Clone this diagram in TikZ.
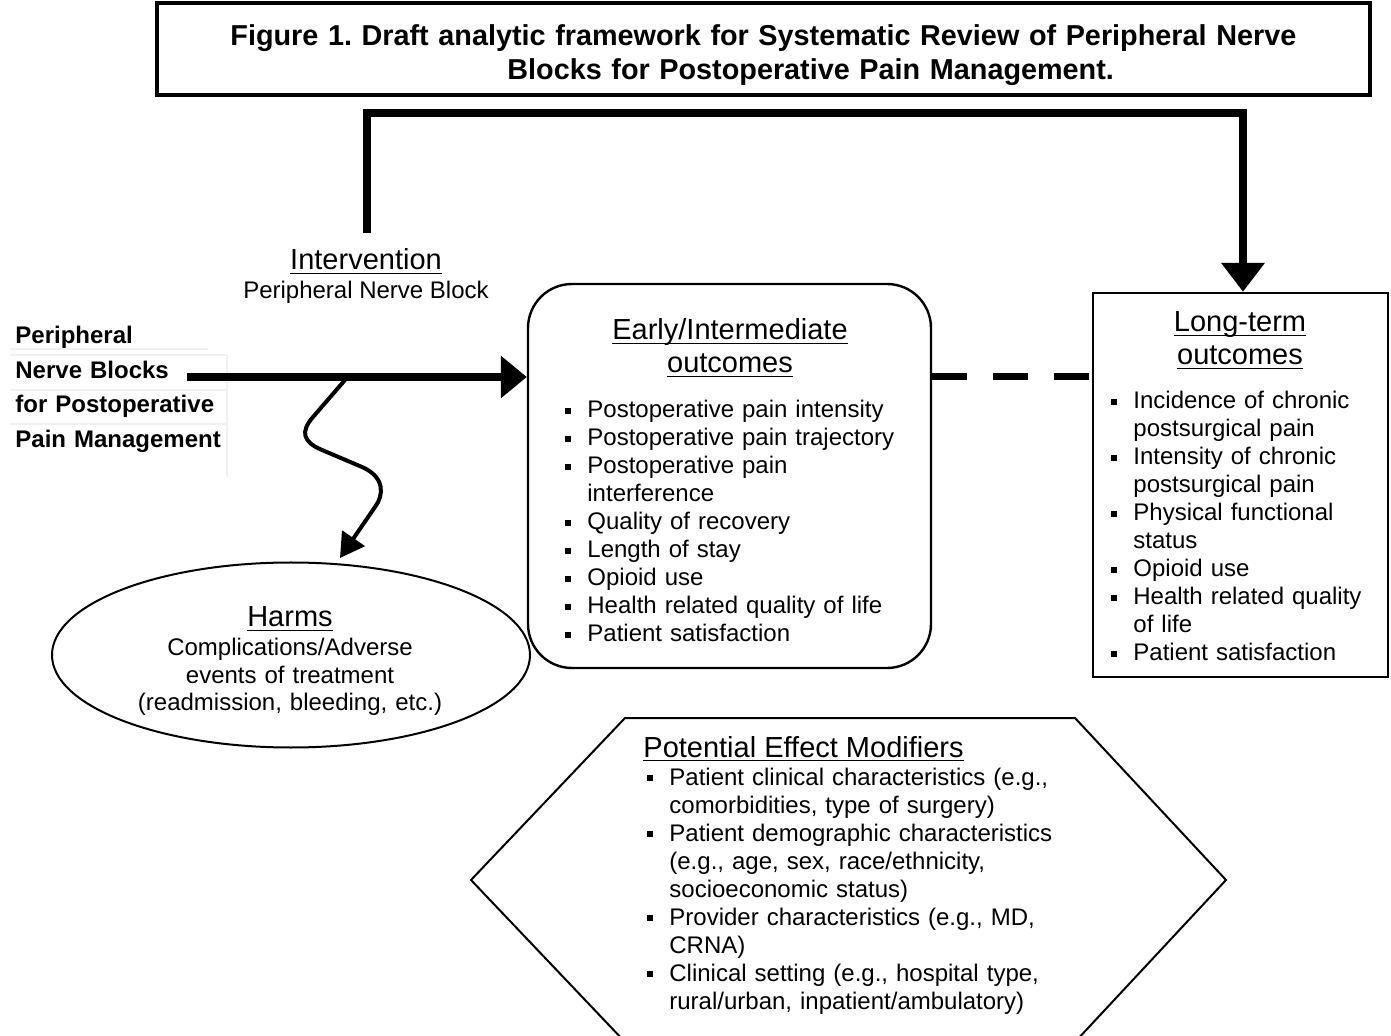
\documentclass[tikz,border=0pt]{standalone}
\usepackage{fontspec}
\setmainfont{Liberation Sans}
\usetikzlibrary{arrows.meta,shapes.geometric}
\frenchspacing
\newcommand{\bl}{\makebox[11pt][l]{\raisebox{2.2pt}{\rule{3pt}{3pt}}}}
\newcommand{\hi}{\hspace*{11pt}}
\newcommand{\ul}[1]{\leavevmode\setbox0\hbox{#1}\rlap{\rule[-2.2pt]{\wd0}{0.9pt}}\box0}
\begin{document}
\begin{tikzpicture}[x=0.5pt,y=-0.5pt, line join=miter,
  body/.style={font=\fontsize{12}{14}\selectfont, inner sep=0pt},
  head/.style={font=\fontsize{14.5}{16.5}\selectfont, inner sep=0pt},
  bigarrow/.style={line width=4pt, -{Triangle[length=13pt,width=20.5pt]}},
  frame/.style={draw, line width=1.2pt, inner sep=0pt},
  faint/.style={draw=gray!12, line width=0.6pt}]
\path[use as bounding box, clip] (0,0) rectangle (1391,1036);

% title
\node (title) [frame, line width=1.8pt, minimum width=606.5pt, minimum height=46pt] at (763.5,49) {};
\node (titletext) [anchor=base west, inner sep=0pt, text width=600pt, align=left,
  font=\bfseries\fontsize{14.4}{17}\selectfont] at (230,46)
  {Figure 1. Draft analytic framework for Systematic Review of Peripheral Nerve\\\hspace*{138.5pt}Blocks for Postoperative Pain Management.};

% left label with faint table lines
\draw[faint] (10,349) -- (208,349);
\draw[faint] (10,355) -- (227,355);
\draw[faint] (10,390) -- (227,390);
\draw[faint] (10,424) -- (227,424);
\draw[faint] (227,355) -- (227,477);
\node (pnb) [anchor=base west, inner sep=0pt, text width=120pt, align=left,
  font=\bfseries\fontsize{12}{17.2}\selectfont] at (15,344)
  {Peripheral\\Nerve Blocks\\for Postoperative\\Pain Management};

% intervention
\node (intv) [head, anchor=base] at (366,270) {\ul{Intervention}};
\node (intvb) [body, anchor=base] at (366,299) {Peripheral Nerve Block};

% early box
\node (early) [frame, rounded corners=22pt, minimum width=201.5pt, minimum height=192pt] at (729.5,476) {};
\node (earlyh) [head, anchor=base, text width=200pt, align=center] at (730,340)
  {\ul{Early/Intermediate}\\\ul{outcomes}};
\node (earlyl) [body, anchor=base west, text width=190pt, align=left] at (565,418)
  {\bl Postoperative pain intensity\\
   \bl Postoperative pain trajectory\\
   \bl Postoperative pain\\
   \hi interference\\
   \bl Quality of recovery\\
   \bl Length of stay\\
   \bl Opioid use\\
   \bl Health related quality of life\\
   \bl Patient satisfaction};

% long-term box
\node (long) [frame, minimum width=147.5pt, minimum height=192pt] at (1240.5,485) {};
\node (longh) [head, anchor=base, text width=140pt, align=center] at (1240,332)
  {\ul{Long-term}\\\ul{outcomes}};
\node (longl) [body, anchor=base west, text width=140pt, align=left] at (1111,409)
  {\bl Incidence of chronic\\
   \hi postsurgical pain\\
   \bl Intensity of chronic\\
   \hi postsurgical pain\\
   \bl Physical functional\\
   \hi status\\
   \bl Opioid use\\
   \bl Health related quality\\
   \hi of life\\
   \bl Patient satisfaction};

% harms
\node (harms) [draw, line width=1pt, ellipse, minimum width=239pt, minimum height=92.5pt, inner sep=0pt] at (291,655) {};
\node (harmsh) [head, anchor=base] at (290,627) {\ul{Harms}};
\node (harmsb) [body, anchor=base, text width=220pt, align=center] at (290,655)
  {Complications/Adverse\\events of treatment\\(readmission, bleeding, etc.)};

% hexagon
\draw[line width=1pt] (625,718) -- (1075,718) -- (1226,880) -- (1075,1042) -- (625,1042) -- (471,880) -- cycle;
\node (modh) [head, anchor=base west] at (643,757) {\ul{Potential Effect Modifiers}};
\node (modl) [body, anchor=base west, text width=220pt, align=left] at (647,785)
  {\bl Patient clinical characteristics (e.g.,\\
   \hi comorbidities, type of surgery)\\
   \bl Patient demographic characteristics\\
   \hi (e.g., age, sex, race/ethnicity,\\
   \hi socioeconomic status)\\
   \bl Provider characteristics (e.g., MD,\\
   \hi CRNA)\\
   \bl Clinical setting (e.g., hospital type,\\
   \hi rural/urban, inpatient/ambulatory)};

% connectors
\coordinate (mstart) at (187,377);
\draw[bigarrow] (mstart) -- (mstart -| early.west);
\draw[line width=3.5pt, dash pattern=on 17.5pt off 13pt] (early.east |- mstart) -- (long.west |- mstart);
\coordinate (tstart) at (367,233);
\coordinate (ttop) at (1243,113);
\draw[line width=4pt, -{Triangle[length=14.5pt,width=21pt]}] (tstart) |- (ttop) -- (ttop |- long.north);
\coordinate (wstart) at (345,380);
\coordinate (htip) at (340,558);
\draw[line width=2pt, -{Triangle[length=12pt,width=13.5pt]}] (wstart) -- (313,417)
  .. controls (300,432) and (303,442) .. (322,450) -- (362,467)
  .. controls (385,477) and (384,495) .. (375,507) -- (htip);
\end{tikzpicture}
\end{document}
